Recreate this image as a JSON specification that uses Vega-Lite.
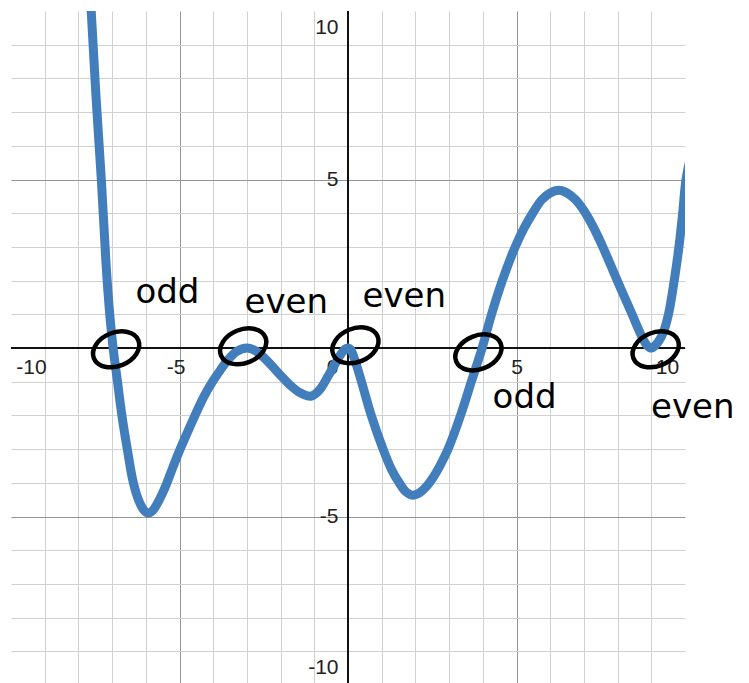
{
  "$schema": "https://vega.github.io/schema/vega-lite/v6.json",
  "width": 674,
  "height": 674,
  "autosize": {"type": "none"},
  "padding": {"left": 11, "top": 11, "right": 64, "bottom": 0},
  "background": "white",
  "config": {"view": {"stroke": null}},
  "datasets": {
    "curve": [
      {"x": -7.78, "y": 12.5}, {"x": -7.62, "y": 10}, {"x": -7.48, "y": 7.5}, {"x": -7.32, "y": 5},
      {"x": -7.18, "y": 2.5}, {"x": -7.07, "y": 1.0}, {"x": -6.97, "y": 0}, {"x": -6.84, "y": -1},
      {"x": -6.71, "y": -2}, {"x": -6.55, "y": -3}, {"x": -6.37, "y": -4}, {"x": -6.2, "y": -4.55},
      {"x": -6.05, "y": -4.82}, {"x": -5.93, "y": -4.9}, {"x": -5.8, "y": -4.83}, {"x": -5.65, "y": -4.6},
      {"x": -5.5, "y": -4.3}, {"x": -5.38, "y": -4.02}, {"x": -5.2, "y": -3.55}, {"x": -4.98, "y": -3.0},
      {"x": -4.75, "y": -2.47}, {"x": -4.54, "y": -2.0}, {"x": -4.28, "y": -1.45}, {"x": -4.02, "y": -1.0},
      {"x": -3.79, "y": -0.66}, {"x": -3.58, "y": -0.37}, {"x": -3.3, "y": -0.1}, {"x": -3.0, "y": 0},
      {"x": -2.75, "y": -0.08}, {"x": -2.51, "y": -0.27}, {"x": -2.25, "y": -0.54}, {"x": -2.0, "y": -0.81},
      {"x": -1.72, "y": -1.1}, {"x": -1.42, "y": -1.33}, {"x": -1.1, "y": -1.43}, {"x": -0.85, "y": -1.25},
      {"x": -0.6, "y": -0.85}, {"x": -0.4, "y": -0.5}, {"x": -0.2, "y": -0.17}, {"x": -0.08, "y": -0.03},
      {"x": 0, "y": 0}, {"x": 0.08, "y": -0.05}, {"x": 0.2, "y": -0.35}, {"x": 0.4, "y": -1.0},
      {"x": 0.69, "y": -2.0}, {"x": 1.04, "y": -3.0},
      {"x": 1.28, "y": -3.58}, {"x": 1.52, "y": -4.0}, {"x": 1.72, "y": -4.27}, {"x": 1.92, "y": -4.37},
      {"x": 2.12, "y": -4.3}, {"x": 2.32, "y": -4.12}, {"x": 2.52, "y": -3.85}, {"x": 2.75, "y": -3.45},
      {"x": 2.97, "y": -3.0}, {"x": 3.34, "y": -2.0}, {"x": 3.66, "y": -1.0}, {"x": 3.98, "y": 0},
      {"x": 4.26, "y": 1.0}, {"x": 4.58, "y": 2.0}, {"x": 4.96, "y": 3.0}, {"x": 5.22, "y": 3.55},
      {"x": 5.51, "y": 4.05}, {"x": 5.75, "y": 4.4}, {"x": 6.0, "y": 4.6}, {"x": 6.26, "y": 4.68},
      {"x": 6.5, "y": 4.6}, {"x": 6.75, "y": 4.4}, {"x": 7.05, "y": 4.0}, {"x": 7.3, "y": 3.55},
      {"x": 7.56, "y": 3.0}, {"x": 7.99, "y": 2.0}, {"x": 8.43, "y": 1.0}, {"x": 8.6, "y": 0.6},
      {"x": 8.75, "y": 0.27}, {"x": 8.88, "y": 0.07}, {"x": 9.0, "y": 0.0}, {"x": 9.12, "y": 0.08},
      {"x": 9.25, "y": 0.25}, {"x": 9.36, "y": 0.47}, {"x": 9.51, "y": 1.0}, {"x": 9.68, "y": 2.0},
      {"x": 9.82, "y": 3.0}, {"x": 9.93, "y": 4.0}, {"x": 10.03, "y": 5.0}, {"x": 10.15, "y": 5.6}
    ],
    "circles": [
      {"x": -6.88, "y": -0.04}, {"x": -3.11, "y": 0.05}, {"x": 0.22, "y": 0.08},
      {"x": 3.87, "y": -0.13}, {"x": 9.13, "y": -0.04}
    ],
    "notes": [
      {"x": -5.36, "y": 1.62, "t": "odd"}, {"x": -1.83, "y": 1.33, "t": "even"},
      {"x": 1.67, "y": 1.5, "t": "even"}, {"x": 5.24, "y": -1.49, "t": "odd"},
      {"x": 10.23, "y": -1.79, "t": "even"}
    ]
  },
  "layer": [
    {
      "data": {"values": [{}]},
      "mark": {"type": "rule", "color": "#111111", "strokeWidth": 2},
      "encoding": {
        "x": {
          "datum": 0, "type": "quantitative",
          "scale": {"domain": [-10, 10], "nice": false, "zero": false},
          "axis": {
            "orient": "bottom", "offset": -337, "title": null, "tickCount": 40,
            "values": [-10,-9,-8,-7,-6,-5,-4,-3,-2,-1,0,1,2,3,4,5,6,7,8,9,10],
            "domain": false, "ticks": false, "tickSize": 0,
            "grid": true, "gridWidth": 1,
            "gridColor": {"condition": {"test": "datum.value % 5 === 0", "value": "#959595"}, "value": "#d0d0d0"},
            "gridOpacity": {"condition": {"test": "abs(datum.value) === 10", "value": 0}, "value": 1},
            "labelExpr": "datum.value % 5 === 0 ? '' + datum.value : ''",
            "labelFont": "Liberation Sans", "labelFontSize": 21, "labelColor": "#222222",
            "labelBaseline": "middle", "labelPadding": 19, "labelAlign": "center",
            "labelFlush": false, "labelOverlap": false, "labelBound": false,
            "labelOffset": {"condition": [
              {"test": "datum.value === -10", "value": 20},
              {"test": "datum.value === -5", "value": -4},
              {"test": "datum.value === 0", "value": -16},
              {"test": "datum.value === 10", "value": -18}
            ], "value": 0}
          }
        }
      }
    },
    {
      "data": {"values": [{}]},
      "mark": {"type": "rule", "color": "#111111", "strokeWidth": 2},
      "encoding": {
        "y": {
          "datum": 0, "type": "quantitative",
          "scale": {"domain": [-10, 10], "nice": false, "zero": false},
          "axis": {
            "orient": "left", "offset": -337, "title": null, "tickCount": 40,
            "values": [-10,-9,-8,-7,-6,-5,-4,-3,-2,-1,0,1,2,3,4,5,6,7,8,9,10],
            "domain": false, "ticks": false, "tickSize": 0,
            "grid": true, "gridWidth": 1,
            "gridColor": {"condition": {"test": "datum.value % 5 === 0", "value": "#959595"}, "value": "#d0d0d0"},
            "gridOpacity": {"condition": {"test": "abs(datum.value) === 10", "value": 0}, "value": 1},
            "labelExpr": "(datum.value % 5 === 0 && datum.value !== 0) ? '' + datum.value : ''",
            "labelFont": "Liberation Sans", "labelFontSize": 21, "labelColor": "#222222",
            "labelBaseline": "middle", "labelPadding": 10, "labelAlign": "right",
            "labelFlush": false, "labelOverlap": false, "labelBound": false,
            "labelOffset": {"condition": [
              {"test": "datum.value === 10", "value": 16},
              {"test": "datum.value === -10", "value": -18}
            ], "value": 0}
          }
        }
      }
    },
    {
      "data": {"name": "curve"},
      "mark": {"type": "line", "color": "#427ebb", "strokeWidth": 9, "strokeCap": "round", "strokeJoin": "round", "interpolate": "catmull-rom", "clip": true},
      "encoding": {
        "x": {"field": "x", "type": "quantitative"},
        "y": {"field": "y", "type": "quantitative"},
        "order": {"field": "x"}
      }
    },
    {
      "data": {"name": "circles"},
      "mark": {"type": "point", "shape": "M-1,0A1,0.7,0,1,0,1,0A1,0.7,0,1,0,-1,0Z", "filled": false, "stroke": "#000000", "strokeWidth": 4.5, "size": 2300, "angle": 338, "opacity": 1},
      "encoding": {
        "x": {"field": "x", "type": "quantitative"},
        "y": {"field": "y", "type": "quantitative"}
      }
    },
    {
      "data": {"name": "notes"},
      "mark": {"type": "text", "font": "DejaVu Sans", "fontSize": 34, "color": "#000000", "align": "center", "baseline": "middle"},
      "encoding": {
        "x": {"field": "x", "type": "quantitative"},
        "y": {"field": "y", "type": "quantitative"},
        "text": {"field": "t"}
      }
    }
  ]
}
